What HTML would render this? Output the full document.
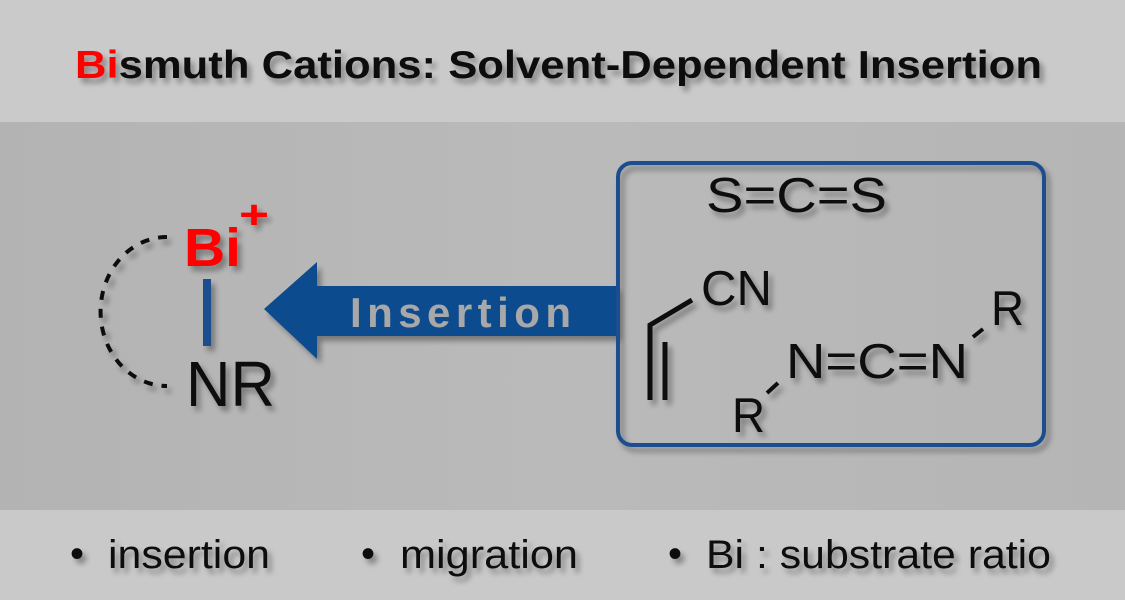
<!DOCTYPE html>
<html><head><style>
html,body{margin:0;padding:0;width:1125px;height:600px;overflow:hidden;background:#c9c9c9}
svg text{font-family:"Liberation Sans",Arial,sans-serif}
</style></head><body>
<svg width="1125" height="600" viewBox="0 0 1125 600" xmlns="http://www.w3.org/2000/svg">
<defs>
<filter id="sh" x="-20%" y="-20%" width="150%" height="150%"><feGaussianBlur in="SourceAlpha" stdDeviation="3"/><feOffset dx="4" dy="5"/><feComponentTransfer><feFuncA type="linear" slope="0.35"/></feComponentTransfer><feMerge><feMergeNode/><feMergeNode in="SourceGraphic"/></feMerge></filter>
<linearGradient id="mid" x1="0" y1="0" x2="1" y2="0"><stop offset="0" stop-color="#b3b3b3"/><stop offset="0.5" stop-color="#bababa"/><stop offset="1" stop-color="#b5b5b5"/></linearGradient>
</defs>
<rect x="0" y="0" width="1125" height="122" fill="#cacaca"/>
<rect x="0" y="122" width="1125" height="388" fill="url(#mid)"/>
<rect x="0" y="510" width="1125" height="90" fill="#c9c9c9"/>

<text x="75" y="78" font-size="39" font-weight="bold" fill="#111" filter="url(#sh)" textLength="967" lengthAdjust="spacingAndGlyphs"><tspan fill="#f00">Bi</tspan>smuth Cations: Solvent-Dependent Insertion</text>

<g filter="url(#sh)">
<path d="M167,237 A66,74 0 0 0 167,386" fill="none" stroke="#111" stroke-width="4" stroke-dasharray="9,9"/>
<text x="184" y="266" font-size="54" font-weight="bold" fill="#f00" textLength="57" lengthAdjust="spacingAndGlyphs">Bi</text>
<text x="239" y="228" font-size="40" font-weight="bold" fill="#f00" textLength="30" lengthAdjust="spacingAndGlyphs">+</text>
<rect x="203" y="279" width="8" height="67" fill="#1c4d8f"/>
<text x="186" y="406" font-size="64" fill="#111" textLength="89" lengthAdjust="spacingAndGlyphs">NR</text>
</g>

<g filter="url(#sh)">
<polygon points="264,309 317,262 317,286 617,286 617,336 317,336 317,359" fill="#0f4b8f"/>
<text x="350" y="327" font-size="42" font-weight="bold" fill="#a8a8a8" textLength="221" lengthAdjust="spacing">Insertion</text>
</g>

<rect x="618" y="163" width="426" height="282" rx="14" fill="none" stroke="#1c4d8f" stroke-width="4" filter="url(#sh)"/>

<g filter="url(#sh)" fill="#111">
<text x="706" y="212" font-size="49" textLength="181" lengthAdjust="spacingAndGlyphs">S=C=S</text>
<text x="701" y="305" font-size="49" textLength="71" lengthAdjust="spacingAndGlyphs">CN</text>
<polyline points="692,300 650,325 650,400" fill="none" stroke="#111" stroke-width="5"/>
<line x1="665" y1="342" x2="665" y2="400" stroke="#111" stroke-width="5"/>
<text x="786" y="378" font-size="49" textLength="182" lengthAdjust="spacingAndGlyphs">N=C=N</text>
<text x="732" y="432" font-size="49" textLength="33" lengthAdjust="spacingAndGlyphs">R</text>
<line x1="767" y1="393" x2="778" y2="383" stroke="#111" stroke-width="4"/>
<text x="991" y="325" font-size="49" textLength="33" lengthAdjust="spacingAndGlyphs">R</text>
<line x1="973" y1="337" x2="983" y2="329" stroke="#111" stroke-width="4"/>
</g>

<g font-size="40" fill="#111" filter="url(#sh)">
<text x="70" y="567">•</text>
<text x="108" y="568" textLength="162" lengthAdjust="spacingAndGlyphs">insertion</text>
<text x="361" y="567">•</text>
<text x="400" y="568" textLength="178" lengthAdjust="spacingAndGlyphs">migration</text>
<text x="668" y="567">•</text>
<text x="706" y="568" textLength="345" lengthAdjust="spacingAndGlyphs">Bi : substrate ratio</text>
</g>
</svg>
</body></html>
